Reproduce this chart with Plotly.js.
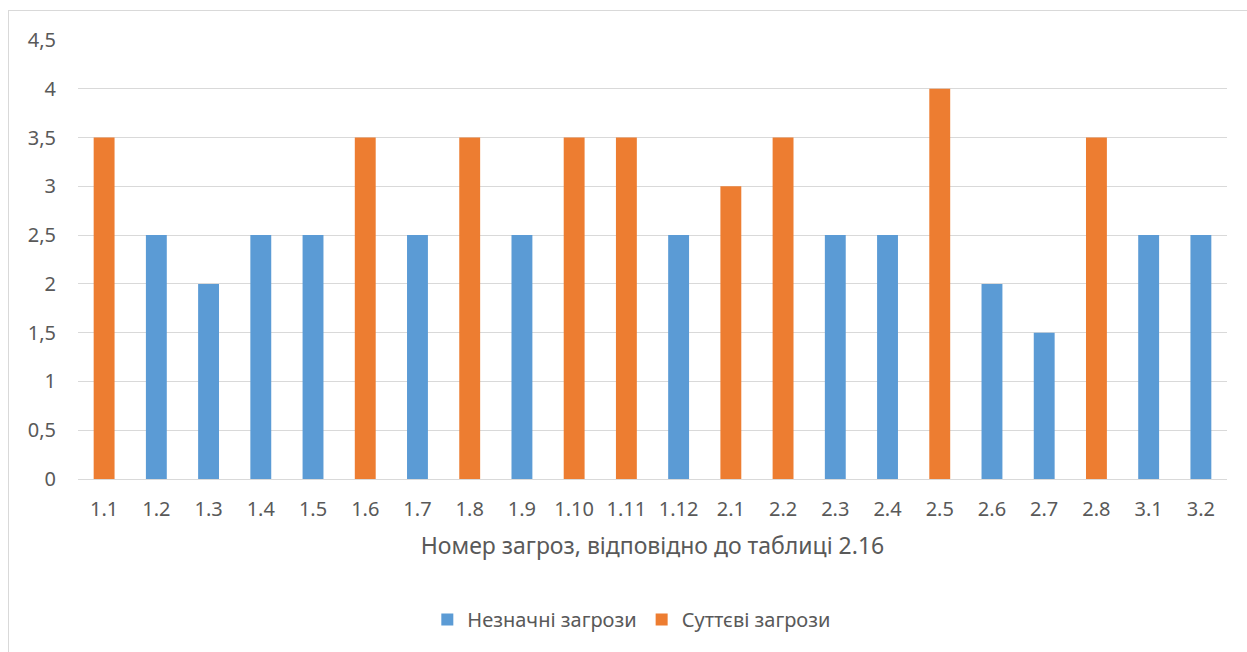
<!DOCTYPE html>
<html>
<head>
<meta charset="utf-8">
<script src="https://cdn.plot.ly/plotly-3.0.1.min.js"></script>
<style>
html,body{margin:0;padding:0;background:#fff;overflow:hidden;}
#frame{position:absolute;left:8px;top:10px;width:1400px;height:800px;border-left:1px solid #d9d9d9;border-top:1px solid #d9d9d9;}
#chart{position:absolute;left:0;top:0;width:1247px;height:652px;}
</style>
</head>
<body>
<div id="frame"></div>
<div id="chart"></div>
<script>
const categories = ["1.1","1.2","1.3","1.4","1.5","1.6","1.7","1.8","1.9","1.10","1.11","1.12","2.1","2.2","2.3","2.4","2.5","2.6","2.7","2.8","3.1","3.2"];
const minorThreats = [null,2.5,2,2.5,2.5,null,2.5,null,2.5,null,null,2.5,null,null,2.5,2.5,null,2,1.5,null,2.5,2.5];
const majorThreats = [3.5,null,null,null,null,3.5,null,3.5,null,3.5,3.5,null,3,3.5,null,null,4,null,null,3.5,null,null];
const seriesNames = ["Незначні загрози","Суттєві загрози"];
const xTitle = "Номер загроз, відповідно до таблиці 2.16";
const yTicks = [0,0.5,1,1.5,2,2.5,3,3.5,4,4.5];
const yTickText = ["0","0,5","1","1,5","2","2,5","3","3,5","4","4,5"];

const fontFam = '"Noto Sans", "Open Sans", sans-serif';
const txt = '#595959';

const traces = [
  {type:'bar', x:categories, y:minorThreats, name:seriesNames[0], marker:{color:'#5B9BD5'}, width:0.4},
  {type:'bar', x:categories, y:majorThreats, name:seriesNames[1], marker:{color:'#ED7D31'}, width:0.4}
];

const layout = {
  width:1247, height:652,
  margin:{l:78, r:20, t:40, b:173},
  paper_bgcolor:'rgba(0,0,0,0)',
  plot_bgcolor:'rgba(0,0,0,0)',
  barmode:'overlay',
  showlegend:true,
  font:{family:fontFam, color:txt, size:20},
  xaxis:{
    type:'category',
    categoryorder:'array', categoryarray:categories,
    showgrid:false, showline:true, linecolor:'#d9d9d9', linewidth:1,
    ticks:'', tickfont:{size:20, color:txt},
    ticklabelstandoff:12,
    title:{text:xTitle, font:{size:23, color:txt}, standoff:16},
    fixedrange:true
  },
  yaxis:{
    range:[0,4.5],
    tickvals:yTicks, ticktext:yTickText,
    showgrid:true, gridcolor:'#d9d9d9', gridwidth:1,
    zeroline:false, showline:false, ticks:'',
    ticklabelstandoff:21,
    tickfont:{size:20, color:txt},
    fixedrange:true
  },
  legend:{
    orientation:'h', x:0.482, xanchor:'center', y:-0.32, yanchor:'middle',
    font:{size:20, color:txt}, itemwidth:30, traceorder:'normal'
  }
};

Plotly.newPlot('chart', traces, layout, {staticPlot:true, displayModeBar:false});
</script>
</body>
</html>
